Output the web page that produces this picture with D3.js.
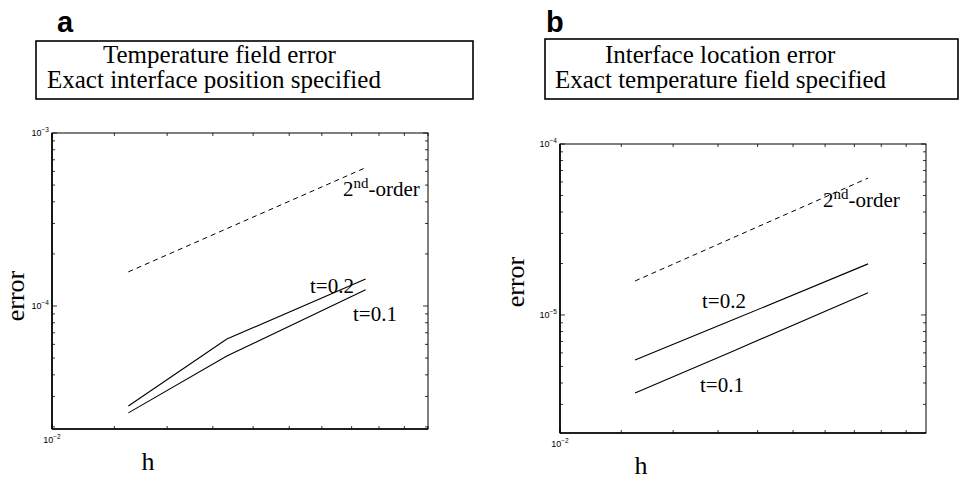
<!DOCTYPE html>
<html><head><meta charset="utf-8">
<script src="https://cdn.jsdelivr.net/npm/d3@7"></script>
<style>body{margin:0;background:#fff}svg{display:block}</style>
</head><body>
<svg id="c" width="966" height="500"></svg>
<script>
// ---- data ----
const hValues = [1/80, 1/60, 1/40];
const hRef = [1/80, 1/40];
// panel a: temperature field error
const aT02 = [2.64e-5, 6.44e-5, 1.43e-4];
const aT01 = [2.41e-5, 5.14e-5, 1.24e-4];
const aRef = [1.575e-4, 6.3e-4];
// panel b: interface location error
const bT02 = [5.46e-6, 9.3e-6, 1.99e-5];
const bT01 = [3.5e-6, 6.1e-6, 1.35e-5];
const bRef = [1.58e-5, 6.32e-5];
const titlesA = ["Temperature field error", "Exact interface position specified"];
const titlesB = ["Interface location error", "Exact temperature field specified"];

const svg = d3.select("#c");
const serif = "'Liberation Serif','Times New Roman',serif";
const sans = "'Liberation Sans',Arial,sans-serif";

function panel(cfg) {
  const x = d3.scaleLog().domain(cfg.xDomain).range([cfg.left, cfg.right]);
  const y = d3.scaleLog().domain(cfg.yDomain).range([cfg.bottom, cfg.top]);
  const g = svg.append("g");
  // frame
  g.append("rect").attr("x", cfg.left).attr("y", cfg.top)
    .attr("width", cfg.right - cfg.left).attr("height", cfg.bottom - cfg.top)
    .attr("fill", "none").attr("stroke", "#000").attr("stroke-width", 1);
  g.append("line").attr("x1", cfg.left).attr("x2", cfg.left).attr("y1", cfg.top).attr("y2", cfg.bottom)
    .attr("stroke", "#000").attr("stroke-width", 1.6);
  g.append("line").attr("x1", cfg.left).attr("x2", cfg.right).attr("y1", cfg.bottom).attr("y2", cfg.bottom)
    .attr("stroke", "#000").attr("stroke-width", 1.4);
  // y ticks
  y.ticks().forEach(t => {
    const isMajor = Math.abs(Math.log10(t) - Math.round(Math.log10(t))) < 1e-9;
    const len = isMajor ? 5 : 3;
    const yy = y(t);
    g.append("line").attr("x1", cfg.left).attr("x2", cfg.left + len).attr("y1", yy).attr("y2", yy).attr("stroke", "#000").attr("stroke-width", 0.8);
    g.append("line").attr("x1", cfg.right).attr("x2", cfg.right - len).attr("y1", yy).attr("y2", yy).attr("stroke", "#000").attr("stroke-width", 0.8);
    if (isMajor) {
      const tx = g.append("text").attr("x", cfg.left - 3).attr("y", yy + 3)
        .attr("text-anchor", "end").attr("font-family", sans).attr("font-size", 9);
      tx.append("tspan").text("10");
      tx.append("tspan").attr("dy", -4).attr("font-size", 6.5).text("\u2212" + Math.round(-Math.log10(t)));
    }
  });
  // x ticks
  x.ticks().forEach(t => {
    const isMajor = Math.abs(Math.log10(t) - Math.round(Math.log10(t))) < 1e-9;
    const len = isMajor ? 5 : 3;
    const xx = x(t);
    g.append("line").attr("x1", xx).attr("x2", xx).attr("y1", cfg.bottom).attr("y2", cfg.bottom - len).attr("stroke", "#000").attr("stroke-width", 0.8);
    g.append("line").attr("x1", xx).attr("x2", xx).attr("y1", cfg.top).attr("y2", cfg.top + len).attr("stroke", "#000").attr("stroke-width", 0.8);
    if (isMajor) {
      const tx = g.append("text").attr("x", xx).attr("y", cfg.bottom + 14)
        .attr("text-anchor", "middle").attr("font-family", sans).attr("font-size", 9);
      tx.append("tspan").text("10");
      tx.append("tspan").attr("dy", -4).attr("font-size", 6.5).text("\u2212" + Math.round(-Math.log10(t)));
    }
  });
  // lines
  const line = d3.line().x(d => x(d[0])).y(d => y(d[1]));
  g.append("path").attr("d", line(d3.zip(hRef, cfg.ref)))
    .attr("fill", "none").attr("stroke", "#000").attr("stroke-width", 1).attr("stroke-dasharray", "5,4");
  [cfg.t02, cfg.t01].forEach(s => {
    g.append("path").attr("d", line(d3.zip(hValues, s)))
      .attr("fill", "none").attr("stroke", "#000").attr("stroke-width", 1.1);
  });
  // line labels
  const o = g.append("text").attr("x", cfg.orderPos[0]).attr("y", cfg.orderPos[1])
    .attr("font-family", serif).attr("font-size", 21);
  o.append("tspan").text("2");
  o.append("tspan").attr("dy", -8).attr("font-size", 15).text("nd");
  o.append("tspan").attr("dy", 8).text("-order");
  g.append("text").attr("x", cfg.t02Pos[0]).attr("y", cfg.t02Pos[1]).attr("font-family", serif).attr("font-size", 21).text("t=0.2");
  g.append("text").attr("x", cfg.t01Pos[0]).attr("y", cfg.t01Pos[1]).attr("font-family", serif).attr("font-size", 21).text("t=0.1");
  // axis titles
  g.append("text").attr("transform", `translate(${cfg.errPos[0]},${cfg.errPos[1]}) rotate(-90)`)
    .attr("text-anchor", "middle").attr("font-family", serif).attr("font-size", 26).text("error");
  g.append("text").attr("x", cfg.hPos[0]).attr("y", cfg.hPos[1]).attr("text-anchor", "middle")
    .attr("font-family", serif).attr("font-size", 26).text("h");
  // title box
  g.append("rect").attr("x", cfg.box[0]).attr("y", cfg.box[1]).attr("width", cfg.box[2]).attr("height", cfg.box[3])
    .attr("fill", "#fff").attr("stroke", "#000").attr("stroke-width", 1.6);
  g.append("text").attr("x", cfg.tl1[0]).attr("y", cfg.tl1[1]).attr("font-family", serif).attr("font-size", 25).text(cfg.titles[0]);
  g.append("text").attr("x", cfg.tl2[0]).attr("y", cfg.tl2[1]).attr("font-family", serif).attr("font-size", 25).text(cfg.titles[1]);
  g.append("text").attr("x", cfg.letterPos[0]).attr("y", cfg.letterPos[1]).attr("font-family", sans)
    .attr("font-weight", "bold").attr("font-size", 29).text(cfg.letter);
}

panel({
  left: 52, right: 428, top: 133, bottom: 429,
  xDomain: [0.01, 0.030], yDomain: [1.945e-5, 1e-3],
  t02: aT02, t01: aT01, ref: aRef,
  orderPos: [343, 196], t02Pos: [310, 293], t01Pos: [353, 321],
  errPos: [24, 296], hPos: [148, 470],
  box: [36, 41, 437, 58], tl1: [103, 63], tl2: [47, 88], titles: titlesA,
  letter: "a", letterPos: [57, 32]
});
panel({
  left: 560, right: 926, top: 144, bottom: 433,
  xDomain: [0.01, 0.0297], yDomain: [2.04e-6, 1e-4],
  t02: bT02, t01: bT01, ref: bRef,
  orderPos: [823, 207], t02Pos: [702, 308], t01Pos: [700, 392],
  errPos: [524, 282], hPos: [641, 474],
  box: [545, 39, 413, 60], tl1: [605, 63], tl2: [555, 88], titles: titlesB,
  letter: "b", letterPos: [546, 32]
});
</script>
</body></html>
